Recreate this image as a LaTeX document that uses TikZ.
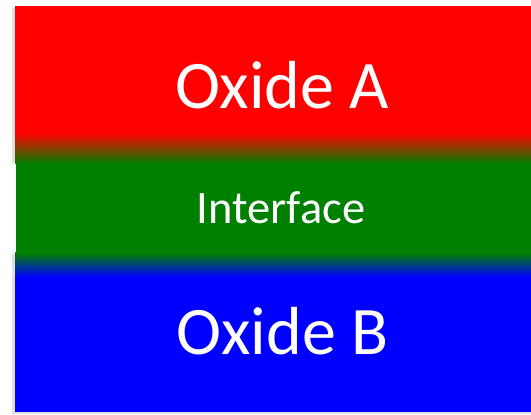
\documentclass[tikz,border=0pt]{standalone}
\usepackage{fontspec}
\setmainfont{Carlito}
\definecolor{oxred}{RGB}{255,0,0}
\definecolor{oxgreen}{RGB}{0,128,0}
\definecolor{oxblue}{RGB}{0,0,255}
\tikzset{
  label/.style={text=white, inner sep=0pt, anchor=base},
  big/.style={label, font=\fontsize{68}{80}\selectfont},
  small/.style={label, font=\fontsize{46.5}{54}\selectfont},
  shadow/.style={fill=black!12},
}
\begin{document}
\begin{tikzpicture}[x=1pt,y=1pt]
\useasboundingbox (0,0) rectangle (531,415);
% shadows
\fill[shadow] (12,0.5) rectangle (531,161);
\fill[shadow] (12,252) rectangle (15,407);
% red layer
\fill[oxred] (15,282) rectangle (531,409);
\shade[top color=oxred, bottom color=oxgreen] (15,251) rectangle (531,282.2);
% green layer
\fill[oxgreen] (16,162) rectangle (531,251.2);
% blue layer
\shade[top color=oxgreen, bottom color=oxblue] (15,138) rectangle (531,162.2);
\fill[oxblue] (15,3) rectangle (531,138.2);
% labels
\node[big] (a) at (282,306) {Oxide A};
\node[small] (i) at (281,191) {Interface};
\node[big] (b) at (282.5,60) {Oxide B};
\end{tikzpicture}
\end{document}
